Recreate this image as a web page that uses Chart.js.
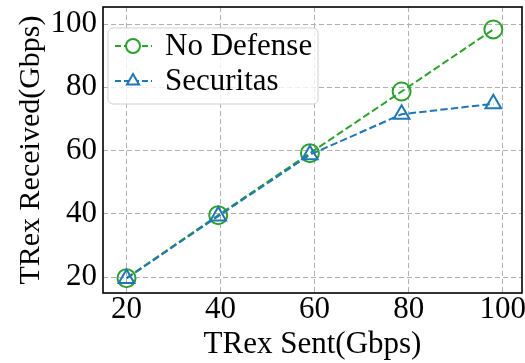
<!DOCTYPE html>
<html>
<head>
<meta charset="utf-8">
<script src="https://cdn.jsdelivr.net/npm/chart.js@4.4.0/dist/chart.umd.min.js"></script>
<style>
  html, body { margin: 0; padding: 0; background: #fff; }
  #grafica { display: block; }
</style>
</head>
<body>
<canvas id="grafica" width="525" height="363"></canvas>
<script>
// Datos
const enviado = [20, 39.5, 59, 78.5, 98];
const sinDefensa = [19.7, 39.6, 59.2, 78.7, 98.3];
const securitas = [19.6, 39.3, 58.7, 71.5, 74.8];
const ticksX = [20, 40, 60, 80, 100];
const ticksY = [20, 40, 60, 80, 100];
const nombres = ['No Defense', 'Securitas'];
const tituloX = 'TRex Sent(Gbps)';
const tituloY = 'TRex Received(Gbps)';

const VERDE = '#2ca02c';
const AZUL = '#1f77b4';
const FUENTE = '"Liberation Serif", "Times New Roman", serif';

const puntos = ys => enviado.map((x, i) => ({ x: x, y: ys[i] }));

// Marco negro y leyenda propia (línea discontinua + marcador)
const marcoYLeyenda = {
  id: 'marcoYLeyenda',
  afterDatasetsDraw(chart) {
    const { ctx, chartArea: a } = chart;
    ctx.save();
    ctx.strokeStyle = '#000';
    ctx.lineWidth = 1.6;
    ctx.strokeRect(a.left, a.top, a.right - a.left, a.bottom - a.top);

    // caja de la leyenda
    const bx = 108, by = 28, bw = 210, bh = 76, r = 5;
    ctx.beginPath();
    ctx.moveTo(bx + r, by);
    ctx.arcTo(bx + bw, by, bx + bw, by + bh, r);
    ctx.arcTo(bx + bw, by + bh, bx, by + bh, r);
    ctx.arcTo(bx, by + bh, bx, by, r);
    ctx.arcTo(bx, by, bx + bw, by, r);
    ctx.closePath();
    ctx.fillStyle = 'rgba(255,255,255,0.8)';
    ctx.fill();
    ctx.strokeStyle = '#d0d0d0';
    ctx.lineWidth = 1;
    ctx.stroke();

    chart.data.datasets.forEach((ds, i) => {
      const yy = 46 + i * 35;
      ctx.save();
      ctx.strokeStyle = ds.borderColor;
      ctx.lineWidth = 2;
      ctx.setLineDash([6, 3]);
      ctx.beginPath();
      ctx.moveTo(115, yy);
      ctx.lineTo(152, yy);
      ctx.stroke();
      ctx.setLineDash([]);
      ctx.fillStyle = '#fff';
      Chart.helpers.drawPoint(ctx, {
        pointStyle: ds.pointStyle, radius: 7, borderWidth: 2
      }, 133, yy);
      ctx.restore();
      ctx.fillStyle = '#000';
      ctx.font = '31px ' + FUENTE;
      ctx.textBaseline = 'middle';
      ctx.fillText(ds.label, 165, yy + 1);
    });
    ctx.restore();
  }
};

const serie = (label, datos, color, estilo, orden) => ({
  label: label,
  data: puntos(datos),
  order: orden,
  showLine: true,
  borderColor: color,
  backgroundColor: 'rgba(255,255,255,0)',
  borderWidth: 2,
  borderDash: [7.4, 3.2],
  pointStyle: estilo,
  pointRadius: 9,
  pointBorderWidth: 2,
  pointBackgroundColor: 'rgba(255,255,255,0)',
  pointBorderColor: color
});

new Chart(document.getElementById('grafica').getContext('2d'), {
  type: 'scatter',
  data: {
    datasets: [
      serie(nombres[0], sinDefensa, VERDE, 'circle', 2),
      serie(nombres[1], securitas, AZUL, 'triangle', 1)
    ]
  },
  options: {
    responsive: false,
    animation: false,
    layout: { autoPadding: false, padding: { top: 7, right: 3, left: 0, bottom: 0 } },
    plugins: {
      legend: { display: false },
      tooltip: { enabled: false }
    },
    scales: {
      x: {
        type: 'linear',
        min: 15,
        max: 104.1,
        afterBuildTicks: s => { s.ticks = ticksX.map(v => ({ value: v })); },
        afterFit: s => { s.height = 70; s.paddingLeft = 0; s.paddingRight = 0; },
        grid: { color: '#b0b0b0', lineWidth: 1, drawTicks: false },
        border: { display: false, dash: [5, 3] },
        ticks: { color: '#000', padding: -2, font: { family: FUENTE, size: 31 } },
        title: {
          display: true, text: tituloX, color: '#000',
          padding: { top: 0, bottom: 0 },
          font: { family: FUENTE, size: 31 }
        }
      },
      y: {
        type: 'linear',
        min: 15,
        max: 105.4,
        afterBuildTicks: s => { s.ticks = ticksY.map(v => ({ value: v })); },
        afterFit: s => { s.width = 103; s.paddingTop = 0; s.paddingBottom = 0; },
        grid: { color: '#b0b0b0', lineWidth: 1, drawTicks: false },
        border: { display: false, dash: [5, 3] },
        ticks: { color: '#000', padding: 6, font: { family: FUENTE, size: 31 } },
        title: {
          display: true, text: tituloY, color: '#000',
          padding: { top: 13, bottom: 0 },
          font: { family: FUENTE, size: 30 }
        }
      }
    }
  },
  plugins: [marcoYLeyenda]
});
</script>
</body>
</html>
